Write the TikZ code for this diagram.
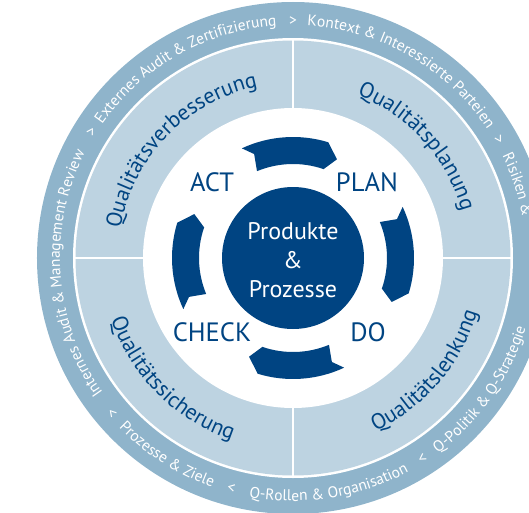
\documentclass[tikz,border=0pt]{standalone}
\usepackage{fontspec}
\setmainfont{PT Sans}
\usetikzlibrary{decorations.text}

\definecolor{qmdark}{RGB}{0,68,130}
\definecolor{qmring}{RGB}{143,180,203}
\definecolor{qmband}{RGB}{189,211,225}

\tikzset{
  pdca/.style={text=qmdark,inner sep=0pt,font=\fontsize{26.5}{26.5}\selectfont},
  core/.style={text=white,align=center,inner sep=0pt,font=\fontsize{24}{29}\selectfont},
  divider/.style={draw=white,line width=2pt},
  arrowband/.style={fill=qmdark},
}

% text on an arc, read clockwise (top) or counter clockwise (bottom)
\newcommand\ringcw[4]{%
  \path[decorate,decoration={text along path,text align=center,text={|#3|#4}}]
    (#1+90:#2) arc[start angle=#1+90,end angle=#1-90,radius=#2];}
\newcommand\ringccw[4]{%
  \path[decorate,decoration={text along path,text align=center,text={|#3|#4}}]
    (#1-90:#2) arc[start angle=#1-90,end angle=#1+90,radius=#2];}
\newcommand\outerfmt{\color{white}\fontsize{15.5}{15.5}\selectfont}
\newcommand\bandfmt{\color{qmdark}\fontsize{22}{22}\selectfont}

% one of the four PDCA arrows, #1 = centre angle
\newcommand\pdcaarrow[1]{%
  \fill[arrowband] (#1+25:121pt) arc[start angle=#1+25,end angle=#1-17,radius=121pt]
    -- (#1-24:108pt) -- (#1-19:94pt)
    arc[start angle=#1-19,end angle=#1+22.5,radius=94pt]
    -- (#1+20.5:111pt) -- cycle;}

\begin{document}
\begin{tikzpicture}[x=1pt,y=1pt]
\useasboundingbox (-293,-254) rectangle (236,258);
\clip (-293,-254) rectangle (236,258);

% rings
\fill[qmring] (0,0) circle[radius=256pt];
\fill[white] (0,0) circle[radius=220pt];
\fill[qmband] (0,0) circle[radius=217.5pt];
\fill[white] (0,0) circle[radius=150pt];

\draw[divider] (0,150) -- (0,218);
\draw[divider] (0,-150) -- (0,-218);
\draw[divider] (150,0) -- (218,0);
\draw[divider] (-150,0) -- (-218,0);

% outer ring
\ringcw{184.25}{233pt}{\outerfmt}{Internes Audit {\&} Management Review}
\ringcw{148}{233pt}{\outerfmt}{>}
\ringcw{119.5}{233pt}{\outerfmt}{Externes Audit {\&} Zertifizierung}
\ringcw{90}{233pt}{\outerfmt}{>}
\ringcw{60}{233pt}{\outerfmt}{Kontext {\&} Interessierte Parteien}
\ringcw{30}{233pt}{\outerfmt}{>}
\path[decorate,decoration={text along path,text={|\outerfmt|Risiken {\&}}}]
  (26:233pt) arc[start angle=26,end angle=-60,radius=233pt];
\ringccw{220.6}{243pt}{\outerfmt}{<}
\ringccw{237.4}{243pt}{\outerfmt}{Prozesse {\&} Ziele}
\ringccw{255}{243pt}{\outerfmt}{<}
\ringccw{279}{243pt}{\outerfmt}{Q-Rollen {\&} Organisation}
\ringccw{302.9}{243pt}{\outerfmt}{<}
\path[decorate,decoration={text along path,text={|\outerfmt|Q-Politik {\&} Q-Strategie}}]
  (306.6:243pt) arc[start angle=306.6,end angle=420,radius=243pt];

% quadrants
\ringcw{136}{175pt}{\bandfmt}{Qualitätsverbesserung}
\ringcw{42}{175pt}{\bandfmt}{Qualitätsplanung}
\ringccw{225}{192pt}{\bandfmt}{Qualitätssicherung}
\ringccw{319.5}{192pt}{\bandfmt}{Qualitätslenkung}

% PDCA
\foreach \a in {90,0,-90,180} {\pdcaarrow{\a}}
\node[pdca] (act) at (-81,76) {ACT};
\node[pdca] (plan) at (74,76) {PLAN};
\node[pdca] (check) at (-81,-74) {CHECK};
\node[pdca] (do) at (75,-74) {DO};

\fill[qmdark] (0,0) circle[radius=71pt];
\node[core] (products) at (0,-2.5) {Produkte\\\&\\Prozesse};
\end{tikzpicture}
\end{document}
